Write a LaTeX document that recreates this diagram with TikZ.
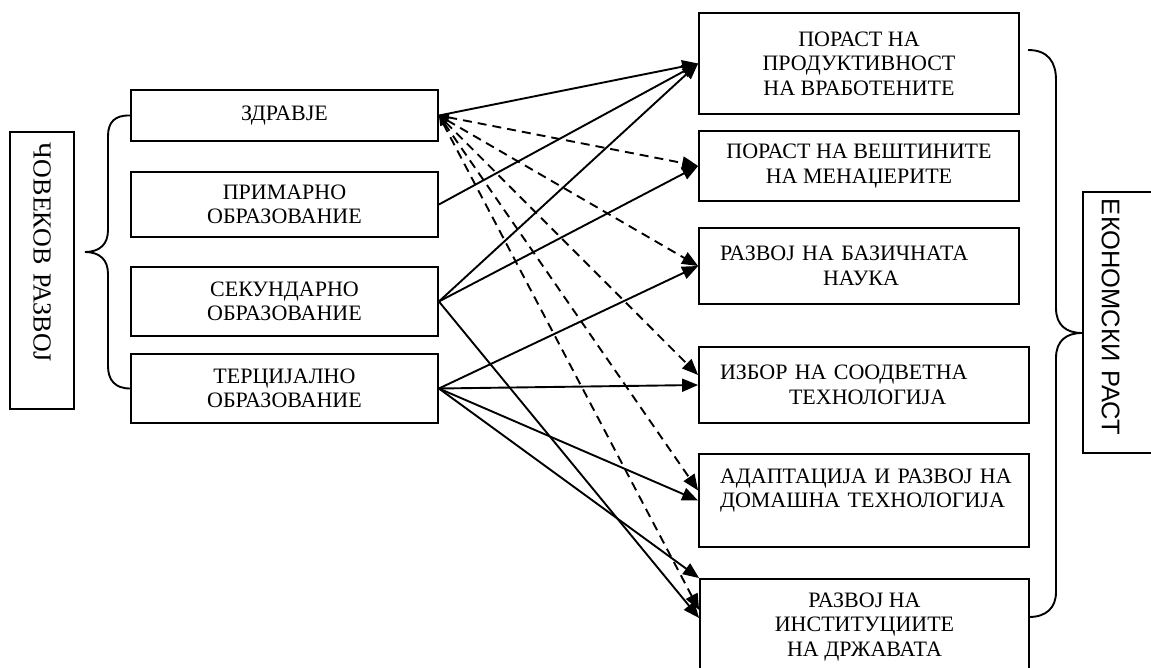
\documentclass[tikz,border=0pt]{standalone}
\usepackage{fontspec}
\setmainfont{Liberation Serif}
\newfontfamily\arialfont{Liberation Sans}
\usetikzlibrary{arrows.meta}
\tikzstyle{box}=[draw, line width=1.8pt, inner sep=0pt, align=center, font=\fontsize{22}{24.5}\selectfont]
\tikzstyle{lbox}=[box, align=left, inner xsep=21pt]
\tikzstyle{arr}=[line width=1.9pt, -{Triangle[length=16pt,width=13pt]}]
\tikzstyle{darr}=[line width=1.9pt, dash pattern=on 9pt off 6pt, {Triangle[length=10pt,width=7pt]}-{Triangle[length=16pt,width=13pt]}]

\begin{document}
\begin{tikzpicture}[x=1pt, y=-1pt]
            \useasboundingbox (0,0) rectangle (1151,668);
            %\draw[step=50, gray, very thin] (0,0) grid (1150,650);

            %%%%% covekov razvoj
            \node[box, rotate=-90, align=left, text width=255pt, inner xsep=11pt, minimum height=64pt, font=\fontsize{26}{28}\selectfont] (hum) at (42,270.5) {ЧОВЕКОВ РАЗВОЈ};
            \node[box, minimum width=307pt, minimum height=51pt] (zdr) at (284.5,115.5) {ЗДРАВЈЕ};
            \node[box, minimum width=307pt, minimum height=65pt] (prim) at (284.5,204.5) {ПРИМАРНО\\ОБРАЗОВАНИЕ};
            \node[box, minimum width=307pt, minimum height=69pt] (sek) at (284.5,301.5) {СЕКУНДАРНО\\ОБРАЗОВАНИЕ};
            \node[box, minimum width=307pt, minimum height=69pt] (terc) at (284.5,388.5) {ТЕРЦИЈАЛНО\\ОБРАЗОВАНИЕ};
            \draw[line width=1.9pt] (zdr.west) .. controls (115,115) and (108,122) .. (108,136) -- (108,230)
                .. controls (108,244) and (100,252) .. (85,252) .. controls (100,252) and (108,260) .. (108,274)
                -- (108,366) .. controls (108,380) and (115,388.5) .. (terc.west);

            %%%%% ekonomski rast
            \node[box, minimum width=320pt, minimum height=101pt] (prod) at (859,63.5) {ПОРАСТ НА\\ПРОДУКТИВНОСТ\\НА ВРАБОТЕНИТЕ};
            \node[box, minimum width=320pt, minimum height=70pt] (vest) at (859,166) {ПОРАСТ НА ВЕШТИНИТЕ\\НА МЕНАЏЕРИТЕ};
            \node[lbox, text width=278pt, minimum width=320pt, minimum height=76pt] (baz) at (859,266) {РАЗВОЈ НА БАЗИЧНАТА\\\hspace*{103pt}НАУКА};
            \node[lbox, text width=288pt, minimum width=330pt, minimum height=76pt] (izb) at (864,385) {ИЗБОР НА СООДВЕТНА\\\hspace*{69pt}ТЕХНОЛОГИЈА};
            \node[lbox, text width=288pt, minimum width=330pt, minimum height=93pt] (adapt) at (864,500.5) {\mbox{АДАПТАЦИЈА И РАЗВОЈ НА}\\ДОМАШНА ТЕХНОЛОГИЈА\\\mbox{}};
            \node[box, minimum width=329pt, minimum height=96pt] (inst) at (864.5,627) {РАЗВОЈ НА\\ИНСТИТУЦИИТЕ\\НА ДРЖАВАТА};
            \node[box, rotate=-90, anchor=south, align=left, text width=247pt, inner xsep=7pt, inner ysep=19pt, text depth=0pt, text height=80pt, font=\arialfont\fontsize{25.5}{28}\selectfont] (eko) at (1082,322.5) {ЕКОНОМСКИ РАСТ};
            \draw[line width=1.9pt] (1028,50) .. controls (1048,50) and (1056,62) .. (1056,80) -- (1056,308)
                .. controls (1056,325) and (1066,333) .. (1082,333) .. controls (1066,333) and (1056,341) .. (1056,358)
                -- (1056,592) .. controls (1056,608) and (1046,617) .. (1029,617);

            %%%%% polni strelki
            \draw[arr] (zdr.east) -- (prod.west);
            \draw[arr] (prim.east) -- (prod.west);
            \draw[arr] (sek.east) -- (prod.west);
            \draw[arr] (sek.east) -- (vest.west);
            \draw[arr] (sek.east) -- ([yshift=9pt]inst.west);
            \draw[arr] (terc.east) -- (baz.west);
            \draw[arr] (terc.east) -- (izb.west);
            \draw[arr] (terc.east) -- (adapt.west);
            \draw[arr] (terc.east) -- (inst.north west);
            %%%%% isprekinati strelki
            \draw[darr] (zdr.east) -- (vest.west);
            \draw[darr] (zdr.east) -- (baz.west);
            \draw[darr] (zdr.east) -- ([yshift=10pt]izb.west);
            \draw[darr] (zdr.east) -- ([yshift=10pt]adapt.west);
            \draw[darr] (zdr.east) -- ([yshift=17pt]inst.west);
        \end{tikzpicture}
\end{document}
